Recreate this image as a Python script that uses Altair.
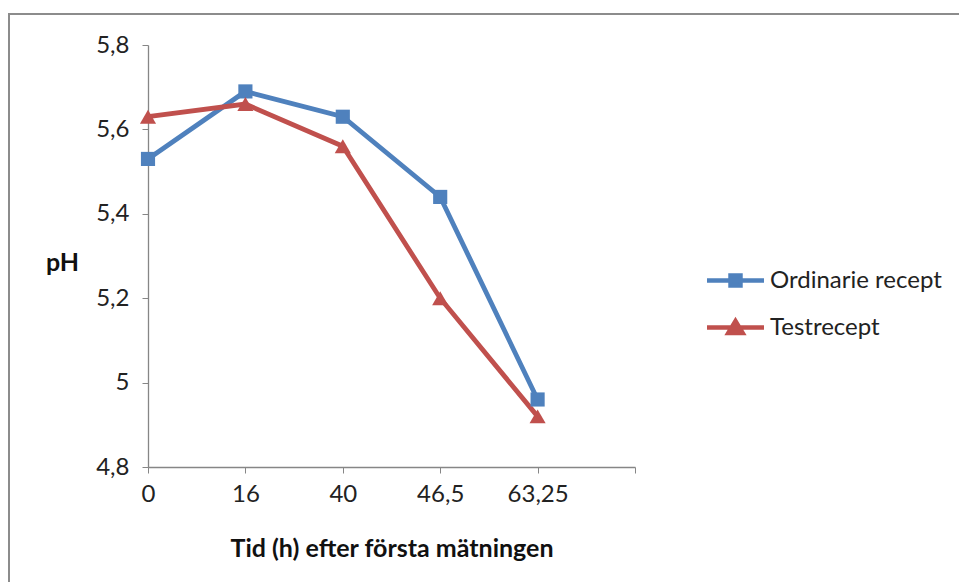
import altair as alt
import pandas as pd

categories = ["0", "16", "40", "46,5", "63,25"]
ordinarie = [5.53, 5.69, 5.63, 5.44, 4.96]
test = [5.63, 5.66, 5.56, 5.20, 4.92]
series = ["Ordinarie recept", "Testrecept"]
y_ticks = [4.8, 5.0, 5.2, 5.4, 5.6, 5.8]

df_o = pd.DataFrame({"tid": categories, "pH": ordinarie, "serie": series[0]})
df_t = pd.DataFrame({"tid": categories, "pH": test, "serie": series[1]})

FONT = "Lato"
BLUE = "#4F81BD"
RED = "#C0504D"
AX = "#868686"

x_domain = categories + [" "]

sq = "M-2,0H2M-0.35,-0.35H0.35V0.35H-0.35Z"
tri = "M-2,0H2M-0.5,0.38L0,-0.45L0.5,0.38Z"

x_enc = alt.X("tid:N", scale=alt.Scale(type="point", domain=x_domain, padding=0),
              axis=alt.Axis(title="Tid (h) efter första mätningen",
                            labelAngle=0, labelExpr="datum.label == ' ' ? '' : datum.label",
                            titleY=81, titleBaseline="middle"))
y_enc = alt.Y("pH:Q", scale=alt.Scale(domain=[4.8, 5.8], nice=False, zero=False),
              axis=alt.Axis(title="pH", values=y_ticks,
                            labelExpr="replace(format(datum.value, '~g'), '.', ',')",
                            titleAngle=0, titleX=-86, titleY=217,
                            titleAlign="center", titleBaseline="middle"))


def leg(path, color, ly):
    return alt.Legend(title=None, orient="none", legendX=571, legendY=ly,
                      symbolType=path, symbolSize=812, symbolStrokeWidth=4.5,
                      symbolFillColor=color, symbolStrokeColor=color,
                      labelOffset=18, padding=0, labelLimit=400)


line_o = alt.Chart(df_o).mark_line(strokeWidth=4.8).encode(
    x=x_enc, y=y_enc,
    color=alt.Color("serie:N", scale=alt.Scale(domain=[series[0]], range=[BLUE]),
                    legend=leg(sq, BLUE, 219)))
line_t = alt.Chart(df_t).mark_line(strokeWidth=4.8).encode(
    x=x_enc, y=y_enc,
    stroke=alt.Stroke("serie:N", scale=alt.Scale(domain=[series[1]], range=[RED]),
                      legend=leg(tri, RED, 266)))

pts_o = alt.Chart(df_o).mark_point(filled=True, opacity=1, size=200, shape="square",
                                    color=BLUE).encode(x=x_enc, y=y_enc)
pts_t = alt.Chart(df_t).mark_point(filled=True, opacity=1, size=260, shape="triangle-up",
                                    color=RED).encode(x=x_enc, y=y_enc)

frame = alt.Chart(pd.DataFrame({"a": [0]})).mark_rect(
    fill=None, stroke="#8c8c8c", strokeWidth=2).encode(
    x=alt.value(-139), x2=alt.value(830), y=alt.value(-31), y2=alt.value(560))

chart = alt.layer(frame, line_o, line_t, pts_o, pts_t).properties(
    width=487, height=422, background="white",
    autosize=alt.AutoSizeParams(type="none"),
    padding={"left": 148, "top": 45, "right": 324, "bottom": 115},
).configure_view(stroke=None).configure_axis(
    grid=False, domainColor=AX, tickColor=AX, tickSize=6, domainWidth=1.3,
    labelFont=FONT, labelFontSize=24, labelColor="#222222", labelPadding=9,
    titleFont=FONT, titleFontSize=25, titleFontWeight="bold", titleColor="#111111",
).configure_axisY(labelPadding=13).configure_legend(
    labelFont=FONT, labelFontSize=24, labelColor="#222222"
)

chart.save("out.html", embed_options={"renderer": "svg", "actions": False})
